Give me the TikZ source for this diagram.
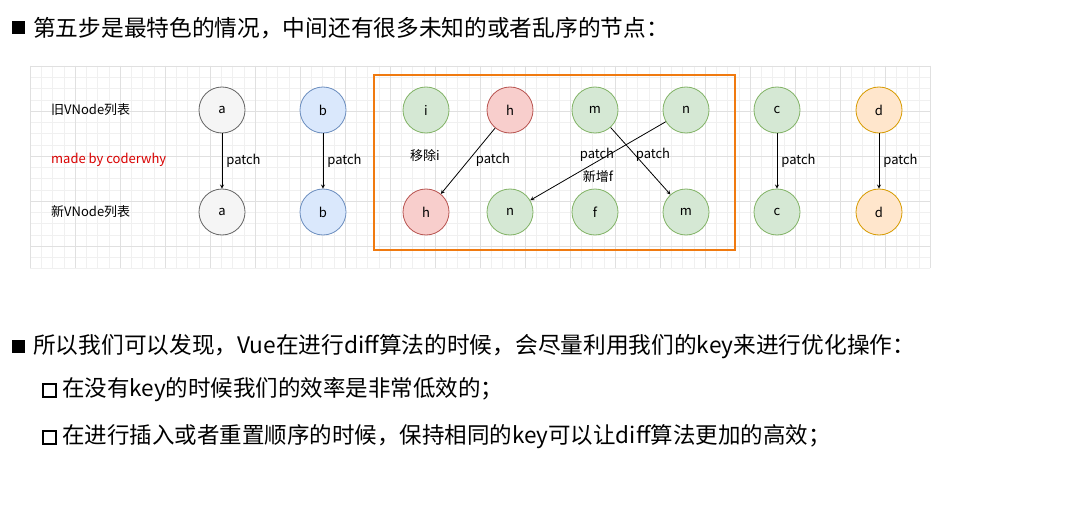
\documentclass[tikz,border=0pt]{standalone}
\usepackage{fontspec}
\setmainfont{Noto Sans CJK SC}
\definecolor{gF}{HTML}{F5F5F5}\definecolor{gD}{HTML}{666666}
\definecolor{bF}{HTML}{DAE8FC}\definecolor{bD}{HTML}{6C8EBF}
\definecolor{nF}{HTML}{D5E8D4}\definecolor{nD}{HTML}{82B366}
\definecolor{rF}{HTML}{F8CECC}\definecolor{rD}{HTML}{B85450}
\definecolor{oF}{HTML}{FFE6CC}\definecolor{oD}{HTML}{D79B00}
\definecolor{box}{HTML}{F07A10}
\begin{document}
\begin{tikzpicture}[x=1pt,y=-1pt,
  vn/.style={circle,minimum size=46pt,inner sep=0pt,line width=0.8pt,font=\fontsize{13}{15}\selectfont},
  gr/.style={vn,draw=gD,fill=gF},
  bl/.style={vn,draw=bD,fill=bF},
  gn/.style={vn,draw=nD,fill=nF},
  rd/.style={vn,draw=rD,fill=rF},
  og/.style={vn,draw=oD,fill=oF},
  lab/.style={font=\fontsize{13}{15}\selectfont,inner sep=1pt},
  arr/.style={-stealth,line width=0.8pt},
  big/.style={font=\fontsize{22.7}{25}\selectfont,anchor=west,inner sep=0pt},
  mid/.style={font=\fontsize{22.5}{25}\selectfont,anchor=west,inner sep=0pt}]
\useasboundingbox (0,0) rectangle (1070,516);
\fill[white] (0,0) rectangle (1070,516);
\foreach \i in {0,...,80} {\draw[black!6,line width=0.4pt] (30+11.25*\i,66) -- (30+11.25*\i,268);}
\foreach \j in {0,...,18} {\draw[black!6,line width=0.4pt] (30,66+11.25*\j) -- (930,66+11.25*\j);}
\foreach \i in {0,...,20} {\draw[black!12,line width=0.5pt] (30+45*\i,66) -- (30+45*\i,268);}
\foreach \j in {0,...,4} {\draw[black!12,line width=0.5pt] (30,66+45*\j) -- (930,66+45*\j);}
% title
\fill (12,21) rectangle (25,34);
\node[big] (t) at (33,28) {第五步是最特色的情况，中间还有很多未知的或者乱序的节点：};
% labels
\node[lab,anchor=west] (l1) at (50,110) {旧VNode列表};
\node[lab,anchor=west,text=red!85!black] (l2) at (50,160) {made by coderwhy};
\node[lab,anchor=west] (l3) at (50,212) {新VNode列表};
% nodes
\node[gr] (oa) at (222,110) {a}; \node[gr] (na) at (222,212) {a};
\node[bl] (ob) at (323,110) {b}; \node[bl] (nb) at (323,212) {b};
\node[gn] (oi) at (426,110) {i};
\node[rd] (oh) at (510,110) {h};
\node[gn] (om) at (595,110) {m};
\node[gn] (on) at (686,110) {n};
\node[rd] (nh) at (426,212) {h};
\node[gn] (nn) at (510,212) {n};
\node[gn] (nf) at (595,212) {f};
\node[gn] (nm) at (686,212) {m};
\node[gn] (oc) at (777,110) {c}; \node[gn] (nc) at (777,212) {c};
\node[og] (od) at (879,110) {d}; \node[og] (nd) at (879,212) {d};
\draw[box,line width=2.2pt] (374,75) rectangle (735,250);
% arrows
\draw[arr] (oa) -- node[lab,right=3pt] {patch} (na);
\draw[arr] (ob) -- node[lab,right=3pt] {patch} (nb);
\draw[arr] (oc) -- node[lab,right=3pt] {patch} (nc);
\draw[arr] (od) -- node[lab,right=3pt] {patch} (nd);
\draw[arr] (oh) -- (nh);
\draw[arr] (om) -- (nm);
\draw[arr] (on) -- (nn);
\node[lab] (rm) at (425,156) {移除i};
\node[lab] (p1) at (493,160) {patch};
\node[lab] (p2) at (597,155) {patch};
\node[lab] (p3) at (653,155) {patch};
\node[lab] (add) at (598,177) {新增f};
% bottom text
\fill (12,340) rectangle (25,353);
\node[big] (s1) at (33,347) {所以我们可以发现，Vue在进行diff算法的时候，会尽量利用我们的key来进行优化操作：};
\draw[line width=1.8pt] (43,384) rectangle (56,397);
\node[mid] (s2) at (62,390) {在没有key的时候我们的效率是非常低效的；};
\draw[line width=1.8pt] (43,431) rectangle (56,444);
\node[mid] (s3) at (62,437) {在进行插入或者重置顺序的时候，保持相同的key可以让diff算法更加的高效；};
\end{tikzpicture}
\end{document}
